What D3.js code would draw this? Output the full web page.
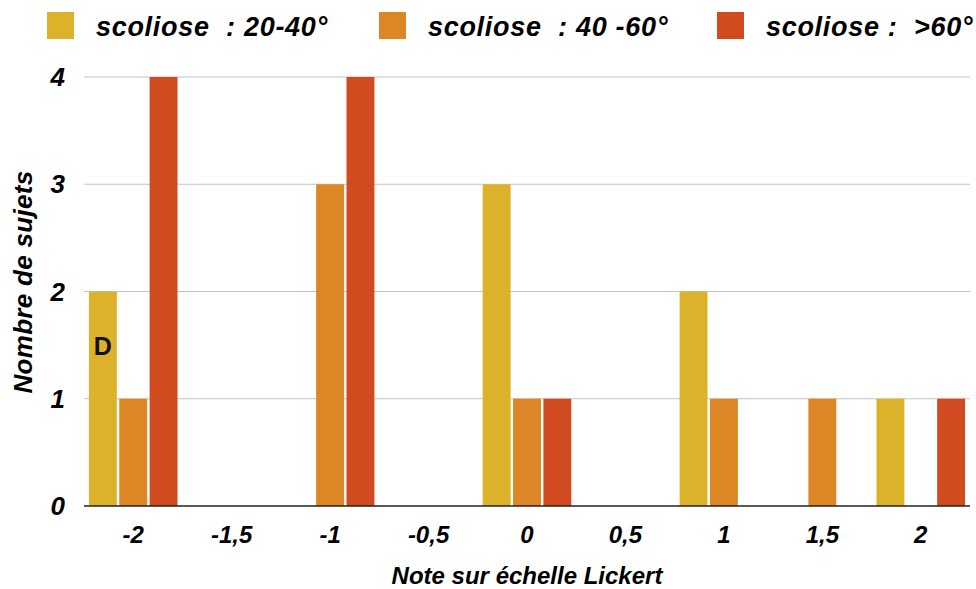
<!DOCTYPE html>
<html>
<head>
<meta charset="utf-8">
<script src="https://cdn.jsdelivr.net/npm/d3@7"></script>
<style>
  html, body { margin: 0; padding: 0; background: #fff; }
  svg text { font-family: "Liberation Sans", Arial, Helvetica, sans-serif; font-weight: bold; }
</style>
</head>
<body>
<svg id="chart" width="976" height="589"></svg>
<script>
// Likert scores (x categories) and their tick labels
const categories = ["-2", "-1.5", "-1", "-0.5", "0", "0.5", "1", "1.5", "2"];
const tickLabels = ["-2", "-1,5", "-1", "-0,5", "0", "0,5", "1", "1,5", "2"];

// Number of subjects per scoliosis severity group
const seriesNames = ["scoliose  : 20-40°", "scoliose  : 40 -60°", "scoliose :  >60°"];
const mild     = [2, 0, 0, 0, 3, 0, 2, 0, 1];
const moderate = [1, 0, 3, 0, 1, 0, 1, 1, 0];
const severe   = [4, 0, 4, 0, 1, 0, 0, 0, 1];
const yTicks = [0, 1, 2, 3, 4];

const seriesValues = [mild, moderate, severe];
const colors = ["#DDB22B", "#DC8625", "#D24A20"];

const svg = d3.select("#chart");

const x = d3.scaleBand().domain(categories).range([84, 970]).paddingInner(0.1).paddingOuter(0.05);
const xs = d3.scaleBand().domain([0, 1, 2]).range([0, x.bandwidth()]).paddingInner(0.08).paddingOuter(0);
const y = d3.scaleLinear().domain([0, 4]).range([506, 77]);

// Horizontal gridlines
svg.append("g")
  .selectAll("line")
  .data(yTicks.filter(d => d > 0))
  .join("line")
  .attr("x1", 84).attr("x2", 970)
  .attr("y1", d => y(d)).attr("y2", d => y(d))
  .attr("stroke", "#c4c4c4").attr("stroke-width", 1.2);

// Bars
const rows = [];
categories.forEach((c, i) => seriesValues.forEach((vals, s) => rows.push({ c, s, v: vals[i] })));
svg.append("g")
  .selectAll("rect")
  .data(rows.filter(d => d.v > 0))
  .join("rect")
  .attr("x", d => x(d.c) + xs(d.s))
  .attr("width", xs.bandwidth())
  .attr("y", d => y(d.v))
  .attr("height", d => y(0) - y(d.v))
  .attr("fill", d => colors[d.s]);

// Baseline
svg.append("line")
  .attr("x1", 84).attr("x2", 970)
  .attr("y1", y(0)).attr("y2", y(0))
  .attr("stroke", "#222").attr("stroke-width", 1.3);

// Y tick labels
svg.append("g")
  .selectAll("text")
  .data(yTicks)
  .join("text")
  .attr("x", 65)
  .attr("y", d => y(d) + 9)
  .attr("text-anchor", "end")
  .attr("font-style", "italic")
  .attr("font-size", 26)
  .text(d => d);

// X tick labels
svg.append("g")
  .selectAll("text")
  .data(categories)
  .join("text")
  .attr("x", d => x(d) + x.bandwidth() / 2)
  .attr("y", 543)
  .attr("text-anchor", "middle")
  .attr("font-style", "italic")
  .attr("font-size", 24)
  .text((d, i) => tickLabels[i]);

// Axis titles
svg.append("text")
  .attr("x", 527).attr("y", 584)
  .attr("text-anchor", "middle")
  .attr("font-style", "italic")
  .attr("font-size", 24)
  .text("Note sur échelle Lickert");

svg.append("text")
  .attr("transform", "translate(32,282) rotate(-90)")
  .attr("text-anchor", "middle")
  .attr("font-style", "italic")
  .attr("font-size", 26)
  .attr("letter-spacing", 0.3)
  .text("Nombre de sujets");

// Panel letter
svg.append("text")
  .attr("x", x(categories[0]) + xs(0) + xs.bandwidth() / 2)
  .attr("y", 355)
  .attr("text-anchor", "middle")
  .attr("font-size", 25)
  .attr("fill", "#111")
  .text("D");

// Legend
const legendX = [47, 379, 717];
const legend = svg.append("g")
  .selectAll("g")
  .data(seriesNames)
  .join("g")
  .attr("transform", (d, i) => `translate(${legendX[i]},12)`);
legend.append("rect")
  .attr("width", 27).attr("height", 27)
  .attr("fill", (d, i) => colors[i]);
legend.append("text")
  .attr("x", 49).attr("y", 24)
  .attr("font-style", "italic")
  .attr("font-size", 27)
  .attr("letter-spacing", 0.7)
  .style("white-space", "pre")
  .text(d => d);
</script>
</body>
</html>
